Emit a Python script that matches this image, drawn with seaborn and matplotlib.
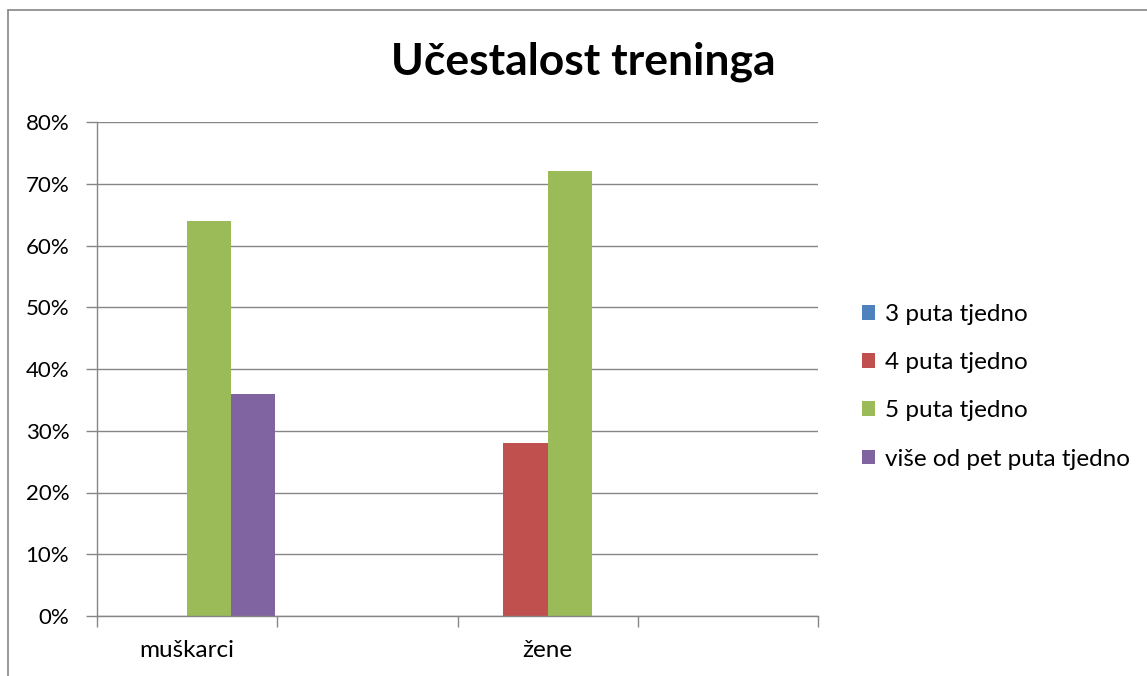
import matplotlib
matplotlib.use("Agg")
import matplotlib.pyplot as plt
from matplotlib.lines import Line2D
from matplotlib.ticker import PercentFormatter, FixedLocator
import pandas as pd
import seaborn as sns

# Data
categories = ["muškarci", "_prazno1", "žene", "_prazno2"]
tick_labels = ["muškarci", "", "žene", ""]
series = ["3 puta tjedno", "4 puta tjedno", "5 puta tjedno", "više od pet puta tjedno"]
tri_puta = [0.00, 0.0, 0.00, 0.0]
cetiri_puta = [0.00, 0.0, 0.28, 0.0]
pet_puta = [0.64, 0.0, 0.72, 0.0]
vise_od_pet = [0.36, 0.0, 0.00, 0.0]
colors = ["#4F81BD", "#C0504D", "#9BBB59", "#8064A2"]

rows = []
for name, vals in zip(series, [tri_puta, cetiri_puta, pet_puta, vise_od_pet]):
    for cat, v in zip(categories, vals):
        rows.append({"kategorija": cat, "serija": name, "udio": v})
df = pd.DataFrame(rows)

sns.set_style("white")
plt.rcParams["font.family"] = ["Lato", "DejaVu Sans"]
plt.rcParams["text.color"] = "black"
plt.rcParams["xtick.labelcolor"] = "black"
plt.rcParams["ytick.labelcolor"] = "black"

fig = plt.figure(figsize=(11.47, 6.76), dpi=100)
ax = fig.add_axes([97 / 1147, 1 - 616 / 676, (818 - 97) / 1147, (616 - 122) / 676])

sns.barplot(data=df, x="kategorija", y="udio", hue="serija", order=categories,
            hue_order=series, palette=colors, width=0.98, saturation=1,
            edgecolor="none", linewidth=0, ax=ax)

ax.set_ylim(0, 0.8)
ax.set_xlim(-0.5, len(categories) - 0.5)
ax.yaxis.set_major_locator(FixedLocator([i / 10 for i in range(9)]))
ax.yaxis.set_major_formatter(PercentFormatter(1.0, decimals=0))
ax.grid(axis="y", color="#868686", linewidth=1)
ax.set_axisbelow(True)
ax.set_xlabel("")
ax.set_ylabel("")

ax.set_xticks(range(len(categories)))
ax.set_xticklabels(tick_labels)
ax.set_xticks([i - 0.5 for i in range(len(categories) + 1)], minor=True)
ax.tick_params(axis="x", which="both", bottom=True)
ax.tick_params(axis="y", which="major", left=True)
ax.tick_params(axis="x", which="major", length=0, pad=17, labelsize=17.5, labelcolor="black")
ax.tick_params(axis="x", which="minor", length=8, width=1, color="#868686", direction="out")
ax.tick_params(axis="y", length=8, width=1, color="#868686", direction="out", labelsize=16,
               pad=12, labelcolor="black")

for side in ["top", "right"]:
    ax.spines[side].set_visible(False)
for side in ["left", "bottom"]:
    ax.spines[side].set_color("#868686")
    ax.spines[side].set_linewidth(1)

leg = ax.legend(loc="center left", bbox_to_anchor=(1.061, 0.464), frameon=False,
                fontsize=17.5, handlelength=0.55, handleheight=0.55, handletextpad=0.4,
                labelspacing=1.12, borderpad=0, borderaxespad=0)
for t in leg.get_texts():
    t.set_color("black")

fig.text(583 / 1147, 1 - 62 / 676, "Učestalost treninga", ha="center", va="center",
         fontsize=32, fontweight="bold", color="black")

# outer chart frame (top and left edges visible)
fig.add_artist(Line2D([8 / 1147, 1], [1 - 10 / 676, 1 - 10 / 676], transform=fig.transFigure,
                      color="#868686", linewidth=1.2))
fig.add_artist(Line2D([8 / 1147, 8 / 1147], [0, 1 - 10 / 676], transform=fig.transFigure,
                      color="#868686", linewidth=1.2))

fig.savefig("out.png", dpi=100)
